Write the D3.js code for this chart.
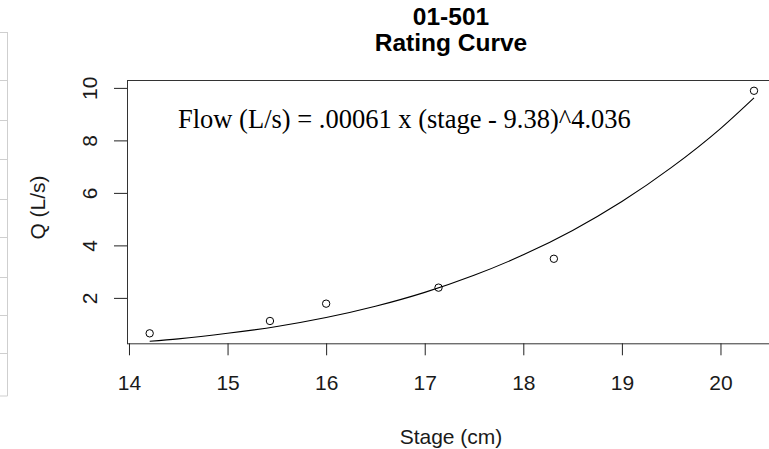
<!DOCTYPE html>
<html><head><meta charset="utf-8">
<script src="https://cdn.jsdelivr.net/npm/d3@7"></script>
<style>body{margin:0;background:#fff}svg{display:block}</style></head>
<body><svg id="c" width="769" height="449"></svg>
<script>
const stage = [14.21, 15.43, 16.00, 17.14, 18.31, 20.34];
const flow = [0.65, 1.12, 1.78, 2.39, 3.49, 9.89];
const curveStage = [14.21, 14.5, 15.0, 15.5, 16.0, 16.5, 17.0, 17.5, 18.0, 18.5, 19.0, 19.5, 20.0, 20.34];
const curveFlow = [0.35, 0.44, 0.65, 0.91, 1.25, 1.68, 2.21, 2.86, 3.64, 4.57, 5.67, 6.96, 8.45, 9.62];
const xTicks = [14, 15, 16, 17, 18, 19, 20];
const yTicks = [2, 4, 6, 8, 10];
const titleLines = ["01-501", "Rating Curve"];
const xLabel = "Stage (cm)";
const yLabel = "Q (L/s)";
const annotation = "Flow (L/s) = .00061 x (stage - 9.38)^4.036";

const svg = d3.select("#c");
const L = 127, R = 781.6, T = 80, B = 343.3;
const x = d3.scaleLinear().domain([13.98, 20.62]).range([L, R]);
const y = d3.scaleLinear().domain([0.27, 10.3]).range([B, T]);
const sans = "Arial, 'Liberation Sans', sans-serif";
const ink = "#1a1a1a";

// left-edge artifact (partial table edge)
const art = svg.append("g").attr("stroke", "#cfcfcf").attr("stroke-width", 1);
art.append("line").attr("x1", 7.5).attr("x2", 7.5).attr("y1", 32).attr("y2", 396);
[32, 80, 120, 159, 199, 237, 277, 315, 353, 395.5].forEach(v => {
  art.append("line").attr("x1", 0).attr("x2", 7.5).attr("y1", v + 0.5).attr("y2", v + 0.5);
});

// plot box
svg.append("rect").attr("x", L + 0.5).attr("y", T + 0.5).attr("width", R - L).attr("height", B - T)
  .attr("fill", "none").attr("stroke", "#333").attr("stroke-width", 1);

// x axis
const xa = svg.append("g").attr("transform", `translate(0,${B})`)
  .call(d3.axisBottom(x).tickValues(xTicks).tickSize(12).tickSizeOuter(0).tickFormat(d3.format("d")));
xa.select(".domain").remove();
xa.selectAll(".tick line").attr("stroke", "#222");
xa.selectAll(".tick text").attr("y", 46.5).attr("dy", null)
  .style("font-family", sans).style("font-size", "21px").attr("fill", ink);

// y axis
const ya = svg.append("g").attr("transform", `translate(${L},0)`)
  .call(d3.axisLeft(y).tickValues(yTicks).tickSize(13).tickSizeOuter(0).tickFormat(d3.format("d")));
ya.select(".domain").remove();
ya.selectAll(".tick line").attr("stroke", "#222");
ya.selectAll(".tick text").attr("x", null).attr("dy", null)
  .attr("transform", "translate(-30,0) rotate(-90)").attr("text-anchor", "middle")
  .style("font-family", sans).style("font-size", "21px").attr("fill", ink);

// fitted curve
const pts = curveStage.map((s, i) => [s, curveFlow[i]]);
svg.append("path").datum(pts)
  .attr("d", d3.line().x(d => x(d[0])).y(d => y(d[1])).curve(d3.curveMonotoneX))
  .attr("fill", "none").attr("stroke", "#000").attr("stroke-width", 1.1);

// observations
svg.append("g").selectAll("circle").data(stage.map((s, i) => [s, flow[i]])).join("circle")
  .attr("cx", d => x(d[0])).attr("cy", d => y(d[1])).attr("r", 3.7)
  .attr("fill", "none").attr("stroke", "#000").attr("stroke-width", 1);

// annotation
svg.append("text").attr("x", 178).attr("y", 128).text(annotation)
  .style("font-family", "'Times New Roman', 'Liberation Serif', serif").style("font-size", "26.5px").attr("fill", "#000");

// title
svg.append("g").selectAll("text").data(titleLines).join("text")
  .attr("x", 451).attr("y", (d, i) => 25 + i * 25.5).attr("text-anchor", "middle")
  .style("font-family", sans).style("font-weight", "bold").style("font-size", "24.5px").attr("fill", "#000")
  .text(d => d);

// axis labels
svg.append("text").attr("x", 451).attr("y", 444).attr("text-anchor", "middle")
  .style("font-family", sans).style("font-size", "21px").attr("fill", ink).text(xLabel);
svg.append("text").attr("transform", "translate(45,207.5) rotate(-90)").attr("text-anchor", "middle")
  .style("font-family", sans).style("font-size", "21px").attr("fill", ink).text(yLabel);
</script></body></html>
